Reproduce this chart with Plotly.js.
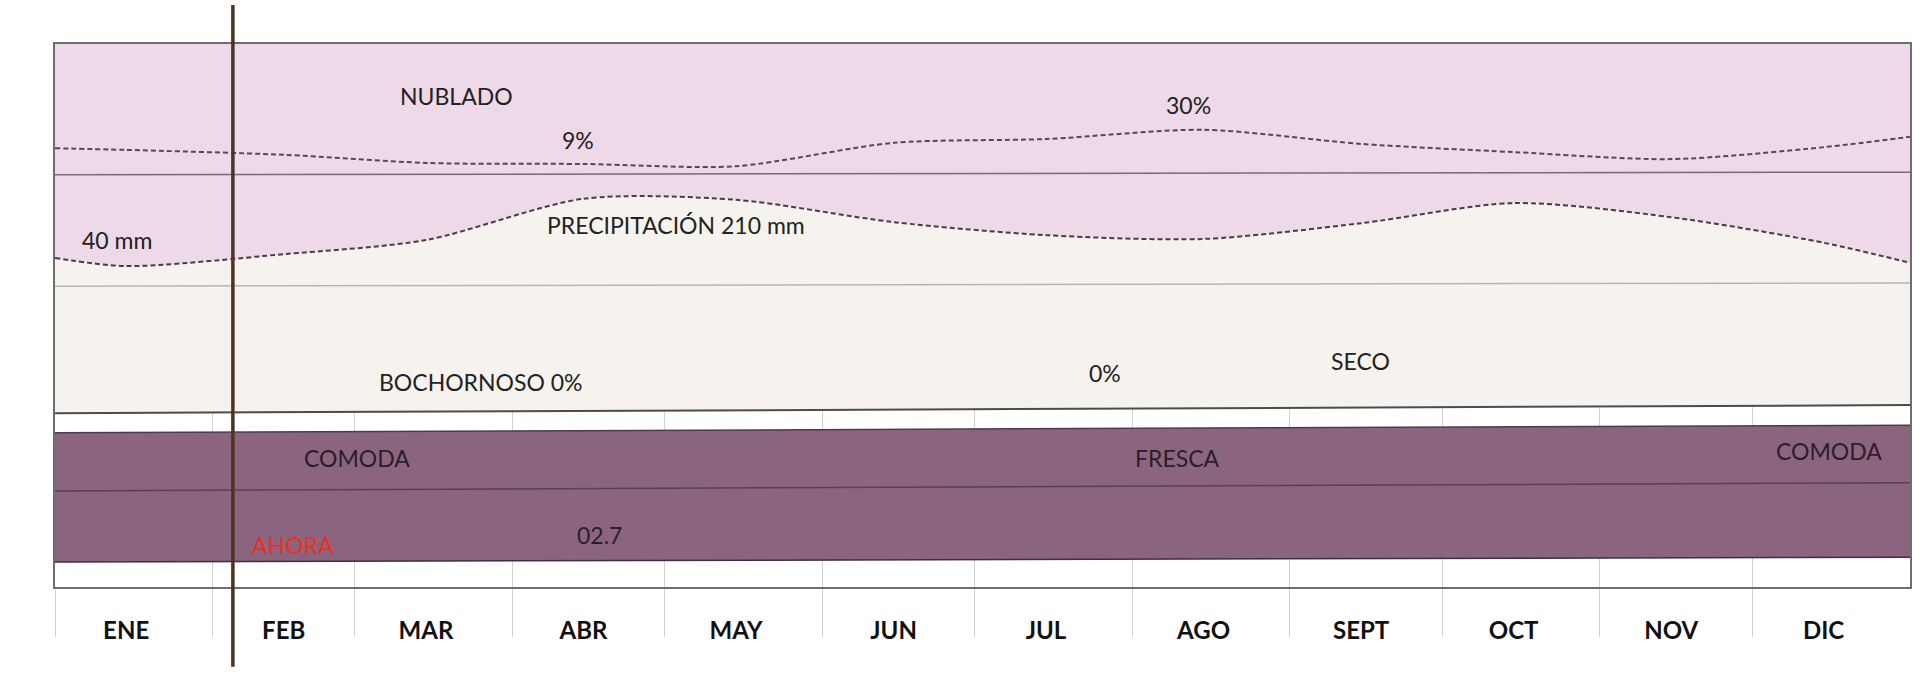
<!DOCTYPE html>
<html>
<head>
<meta charset="utf-8">
<script src="https://cdn.plot.ly/plotly-3.0.1.min.js"></script>
<style>
  html, body { margin: 0; padding: 0; background: #ffffff; }
  #chart { width: 1928px; height: 689px; }
</style>
</head>
<body>
<div id="chart"></div>
<script>
// ---- categories ----
const months = ['ENE', 'FEB', 'MAR', 'ABR', 'MAY', 'JUN', 'JUL', 'AGO', 'SEPT', 'OCT', 'NOV', 'DIC'];
const year = 2023;

// ---- series values (chart height units, 0 = bottom, 100 = top) ----
// points: year start, mid-month ENE..DIC, year end
const nubosidad     = [80.8, 80.5, 79.6, 78.1, 77.9, 77.5, 81.8, 82.5, 84.2, 81.6, 80.1, 78.8, 81.0, 82.9];
const precipitacion = [60.6, 59.1, 61.3, 63.9, 71.5, 71.3, 67.2, 64.8, 64.1, 67.0, 70.7, 68.1, 63.4, 59.7];
// straight bands: year start, year end
const referenciaNubes  = [75.9, 76.4];
const referenciaLluvia = [55.4, 56.0];
const limiteSeco       = [32.0, 33.5];
const confortSup       = [28.4, 29.8];
const confortMedio     = [17.7, 19.2];
const confortInf       = [4.6, 5.5];
const techo            = [100, 100];
const ahoraFecha       = year + '-02-05';

// ---- labels ----
const etiquetas = [
  {text: 'NUBLADO', x: 0.2167, y: 0.904},
  {text: '9%', x: 0.2819, y: 0.823},
  {text: '30%', x: 0.6108, y: 0.888},
  {text: '40 mm', x: 0.0334, y: 0.639},
  {text: 'PRECIPITACIÓN 210 mm', x: 0.3348, y: 0.667},
  {text: 'BOCHORNOSO 0%', x: 0.2296, y: 0.378},
  {text: '0%', x: 0.5660, y: 0.394},
  {text: 'SECO', x: 0.7040, y: 0.416},
  {text: 'COMODA', x: 0.1628, y: 0.238, color: '#2b1d2a'},
  {text: 'FRESCA', x: 0.6049, y: 0.238, color: '#2b1d2a'},
  {text: 'COMODA', x: 0.9563, y: 0.250, color: '#2b1d2a'},
  {text: 'AHORA', x: 0.1283, y: 0.077, color: '#e8321e'},
  {text: '02.7', x: 0.2938, y: 0.096, color: '#2b1d2a'}
];

// ---- x positions from the calendar ----
const pad = n => String(n).padStart(2, '0');
const monthStart = months.map((m, i) => year + '-' + pad(i + 1) + '-01');
const midMonth = months.map((m, i) => year + '-' + pad(i + 1) + '-15');
const yearEnd = (year + 1) + '-01-01';
const xCurve = [monthStart[0]].concat(midMonth, [yearEnd]);
const xEdge = [monthStart[0], yearEnd];

const base = {mode: 'lines', hoverinfo: 'skip', showlegend: false};
const spline = {shape: 'spline', smoothing: 0.8};

const traces = [
  // fills
  Object.assign({}, base, {x: xEdge, y: limiteSeco, line: {width: 0}}),
  Object.assign({}, base, {x: xCurve, y: precipitacion, line: Object.assign({width: 0}, spline), fill: 'tonexty', fillcolor: '#f6f3ee'}),
  Object.assign({}, base, {x: xEdge, y: techo, line: {width: 0}, fill: 'tonexty', fillcolor: '#eed9e9'}),
  Object.assign({}, base, {x: xEdge, y: confortInf, line: {width: 0}}),
  Object.assign({}, base, {x: xEdge, y: confortSup, line: {width: 0}, fill: 'tonexty', fillcolor: '#8b6580'}),
  // lines
  Object.assign({}, base, {x: xEdge, y: referenciaLluvia, line: {color: '#b9b4b1', width: 1.5}}),
  Object.assign({}, base, {x: xEdge, y: limiteSeco, line: {color: '#4f4a4c', width: 2}}),
  Object.assign({}, base, {x: xEdge, y: referenciaNubes, line: {color: '#7d6878', width: 1.5}}),
  Object.assign({}, base, {x: xCurve, y: precipitacion, line: Object.assign({color: '#4a3b44', width: 2, dash: '5px,3px'}, spline)}),
  Object.assign({}, base, {x: xCurve, y: nubosidad, line: Object.assign({color: '#5b4456', width: 2, dash: '5px,3px'}, spline)}),
  Object.assign({}, base, {x: xEdge, y: confortSup, line: {color: '#4e3a4a', width: 1.5}}),
  Object.assign({}, base, {x: xEdge, y: confortMedio, line: {color: '#5a3f55', width: 1.5}}),
  Object.assign({}, base, {x: xEdge, y: confortInf, line: {color: '#3e2f3a', width: 1.5}})
];

const layout = {
  width: 1928,
  height: 689,
  margin: {l: 55, r: 18, t: 44, b: 102},
  paper_bgcolor: '#ffffff',
  plot_bgcolor: '#ffffff',
  hovermode: false,
  showlegend: false,
  font: {family: 'Lato, "Open Sans", sans-serif', size: 23, color: '#222222'},
  xaxis: {
    type: 'date',
    range: [monthStart[0], yearEnd],
    tickmode: 'array',
    tickvals: midMonth,
    ticktext: months,
    ticks: 'outside',
    ticklen: 28,
    tickcolor: 'rgba(0,0,0,0)',
    ticklabelstandoff: -7,
    tickfont: {family: 'Lato, "Open Sans", sans-serif', size: 24, color: '#111111', weight: 'bold'},
    showgrid: false,
    zeroline: false,
    showline: true,
    mirror: true,
    linecolor: '#6e6e6e',
    linewidth: 2,
    minor: {
      tickmode: 'array',
      tickvals: monthStart,
      ticks: 'outside',
      ticklen: 48,
      tickwidth: 1,
      tickcolor: '#d2d2d2',
      showgrid: true,
      gridcolor: '#d2d2d2',
      gridwidth: 1
    }
  },
  yaxis: {
    range: [0, 100],
    showticklabels: false,
    ticks: '',
    showgrid: false,
    zeroline: false,
    showline: true,
    mirror: true,
    linecolor: '#6e6e6e',
    linewidth: 2
  },
  shapes: [{
    type: 'line', xref: 'x', yref: 'paper',
    x0: ahoraFecha, x1: ahoraFecha, y0: -0.147, y1: 1.072,
    line: {color: '#4b3421', width: 3.5},
    layer: 'above'
  }],
  annotations: etiquetas.map(e => ({
    text: e.text, x: e.x, y: e.y, xref: 'paper', yref: 'paper',
    xanchor: 'center', yanchor: 'middle', showarrow: false,
    font: {family: 'Lato, "Open Sans", sans-serif', size: 23, color: e.color || '#222222'}
  }))
};

Plotly.newPlot('chart', traces, layout, {staticPlot: true, displayModeBar: false});
</script>
</body>
</html>
